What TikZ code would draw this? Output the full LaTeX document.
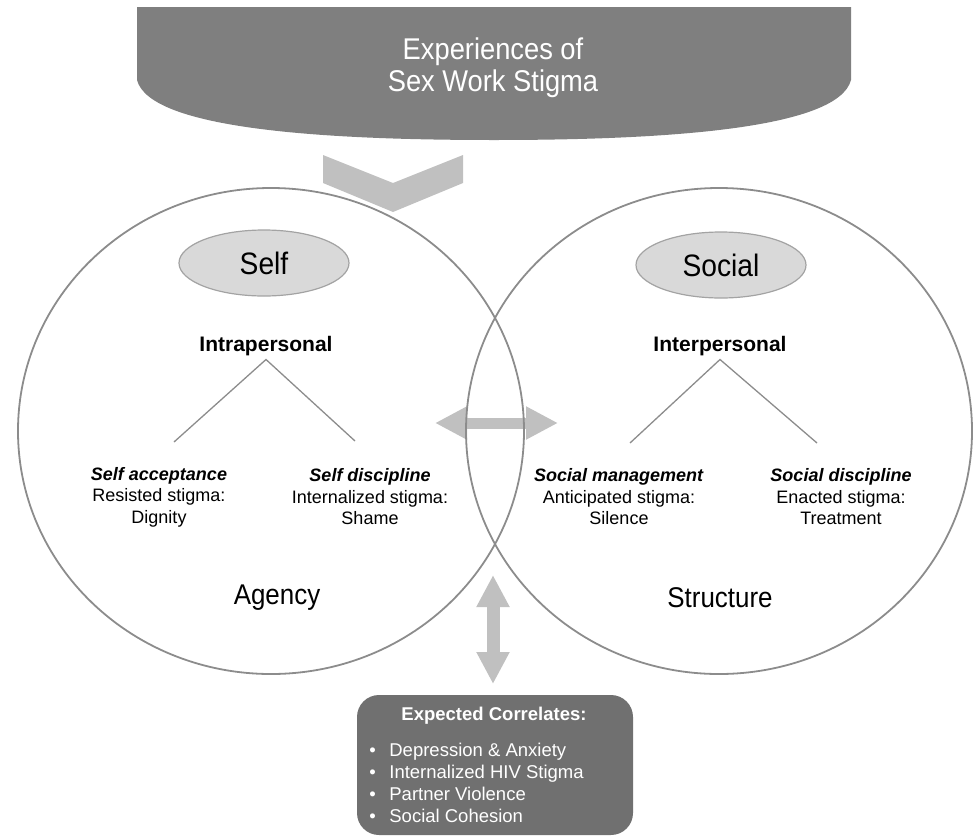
\documentclass[tikz,border=0pt]{standalone}
\usepackage{fontspec}
\setmainfont{Liberation Sans}
\newfontfamily\narrowsans[FakeStretch=0.91]{Liberation Sans}
\usetikzlibrary{arrows.meta,shapes.geometric}

\definecolor{bannergray}{RGB}{127,127,127}
\definecolor{arrowgray}{RGB}{192,192,192}
\definecolor{ringgray}{RGB}{140,140,140}
\definecolor{ovalgray}{RGB}{217,217,217}
\definecolor{boxgray}{RGB}{112,112,112}

\tikzset{every picture/.style={line width=0.75pt}}
\tikzset{
  ring/.style={draw=ringgray, line width=1.8pt},
  oval/.style={ellipse, draw=ringgray!80, fill=ovalgray, line width=1.2pt, inner sep=0pt,
    minimum width=170pt, minimum height=66pt, font=\narrowsans\fontsize{31}{34}\selectfont},
  level/.style={font=\bfseries\fontsize{21}{24}\selectfont},
  branch/.style={align=center, inner sep=0pt, font=\fontsize{18}{21.5}\selectfont},
  pole/.style={font=\narrowsans\fontsize{28.5}{32}\selectfont},
  twig/.style={draw=ringgray, line width=1.3pt},
  bigarrow/.style={draw=arrowgray, line width=11pt,
    {Triangle[length=32pt,width=31pt]}-{Triangle[length=32pt,width=31pt]}},
  item/.style={anchor=base west, inner sep=0pt, text=white, font=\fontsize{18.5}{21}\selectfont}
}

\begin{document}
\begin{tikzpicture}[x=1pt,y=1pt,yscale=-1,xscale=1]
    \useasboundingbox (0,0) rectangle (976,838);

    %Banner
    \fill [bannergray] (137,7) -- (137,80) .. controls (150,130) and (330,140) .. (494,140)
        .. controls (658,140) and (838,130) .. (851,80) -- (851,7) -- cycle;
    % Text Node
    \node (stigma) [align=center, text=white, font=\narrowsans\fontsize{30}{32}\selectfont] at (493,68)
        {Experiences of\\Sex Work Stigma};

    %Chevron
    \fill [arrowgray] (323,155) -- (393,183) -- (463,155) -- (463,183) -- (393,212) -- (323,183) -- cycle;

    %Double arrows
    \coordinate (hl) at (435,423);
    \coordinate (hr) at (558,423);
    \draw [bigarrow] (hl) -- (hr);
    \coordinate (vt) at (493,575);
    \coordinate (vb) at (493,684);
    \draw [bigarrow, line width=13pt] (vt) -- (vb);

    %Circles
    \draw [ring] (271,431) ellipse [x radius=253, y radius=243];
    \draw [ring] (719,431) ellipse [x radius=253, y radius=243];

    % Self side
    \node (self) [oval] at (264,263) {Self};
    \node (intra) [level] at (266,346) {Intrapersonal};
    \coordinate (intraL) at (174,442);
    \coordinate (intraR) at (355,441);
    \draw [twig] (intraL) -- (intra.south) -- (intraR);
    \node (accept) [branch] at (159,497) {\textbf{\textit{Self acceptance}}\\Resisted stigma:\\Dignity};
    \node (discip) [branch] at (370,497) {\textbf{\textit{Self discipline}}\\Internalized stigma:\\Shame};
    \node (agency) [pole] at (277,598) {Agency};

    % Social side
    \node (social) [oval] at (721,265) {Social};
    \node (inter) [level] at (720,346) {Interpersonal};
    \coordinate (interL) at (630,443);
    \coordinate (interR) at (817,443);
    \draw [twig] (interL) -- (inter.south) -- (interR);
    \node (manage) [branch] at (619,497) {\textbf{\textit{Social management}}\\Anticipated stigma:\\Silence};
    \node (socdis) [branch] at (841,497) {\textbf{\textit{Social discipline}}\\Enacted stigma:\\Treatment};
    \node (structure) [pole] at (720,598) {Structure};

    % Correlates box
    \fill [boxgray, rounded corners=22pt] (357,695) rectangle (633,835);
    \node (corr) [anchor=base, inner sep=0pt, text=white, font=\bfseries\fontsize{18.5}{20}\selectfont] at (494,720) {Expected Correlates:};
    \node (b1) [item] at (389,756) {Depression \& Anxiety};
    \node (b2) [item] at (389,778) {Internalized HIV Stigma};
    \node (b3) [item] at (389,800) {Partner Violence};
    \node (b4) [item] at (389,822) {Social Cohesion};
    \node [item] at (369,756) {•};
    \node [item] at (369,778) {•};
    \node [item] at (369,800) {•};
    \node [item] at (369,822) {•};
\end{tikzpicture}
\end{document}
